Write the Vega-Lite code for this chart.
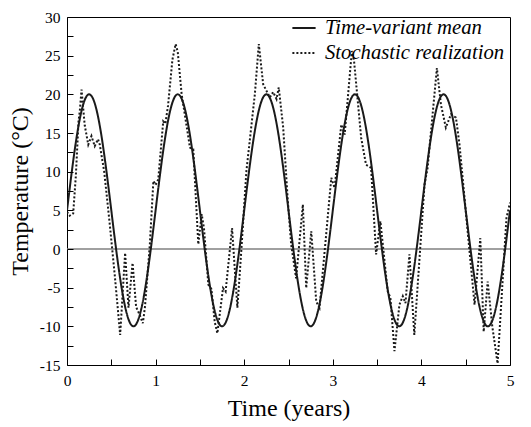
{
  "$schema": "https://vega.github.io/schema/vega-lite/v6.json",
  "width": 443,
  "height": 348,
  "autosize": {"type": "none"},
  "padding": {"left": 67, "top": 17, "right": 21, "bottom": 62},
  "background": "white",
  "config": {
    "view": {"stroke": "#000", "strokeWidth": 1},
    "font": "Liberation Serif",
    "axis": {
      "grid": false,
      "domain": false,
      "labelColor": "#000",
      "titleColor": "#000",
      "labelFont": "Liberation Serif",
      "titleFont": "Liberation Serif",
      "labelFontSize": 15.5,
      "titleFontSize": 24,
      "titleFontWeight": "normal",
      "labelFlush": false,
      "labelOverlap": false
    }
  },
  "datasets": {
    "mean": [
      {"t":0,"v":5,"s":"Time-variant mean"},{"t":0.05,"v":9.635,"s":"Time-variant mean"},{"t":0.1,"v":13.817,"s":"Time-variant mean"},{"t":0.15,"v":17.135,"s":"Time-variant mean"},{"t":0.2,"v":19.266,"s":"Time-variant mean"},{"t":0.25,"v":20,"s":"Time-variant mean"},{"t":0.3,"v":19.266,"s":"Time-variant mean"},{"t":0.35,"v":17.135,"s":"Time-variant mean"},{"t":0.4,"v":13.817,"s":"Time-variant mean"},{"t":0.45,"v":9.635,"s":"Time-variant mean"},
      {"t":0.5,"v":5,"s":"Time-variant mean"},{"t":0.55,"v":0.365,"s":"Time-variant mean"},{"t":0.6,"v":-3.817,"s":"Time-variant mean"},{"t":0.65,"v":-7.135,"s":"Time-variant mean"},{"t":0.7,"v":-9.266,"s":"Time-variant mean"},{"t":0.75,"v":-10,"s":"Time-variant mean"},{"t":0.8,"v":-9.266,"s":"Time-variant mean"},{"t":0.85,"v":-7.135,"s":"Time-variant mean"},{"t":0.9,"v":-3.817,"s":"Time-variant mean"},{"t":0.95,"v":0.365,"s":"Time-variant mean"},
      {"t":1,"v":5,"s":"Time-variant mean"},{"t":1.05,"v":9.635,"s":"Time-variant mean"},{"t":1.1,"v":13.817,"s":"Time-variant mean"},{"t":1.15,"v":17.135,"s":"Time-variant mean"},{"t":1.2,"v":19.266,"s":"Time-variant mean"},{"t":1.25,"v":20,"s":"Time-variant mean"},{"t":1.3,"v":19.266,"s":"Time-variant mean"},{"t":1.35,"v":17.135,"s":"Time-variant mean"},{"t":1.4,"v":13.817,"s":"Time-variant mean"},{"t":1.45,"v":9.635,"s":"Time-variant mean"},
      {"t":1.5,"v":5,"s":"Time-variant mean"},{"t":1.55,"v":0.365,"s":"Time-variant mean"},{"t":1.6,"v":-3.817,"s":"Time-variant mean"},{"t":1.65,"v":-7.135,"s":"Time-variant mean"},{"t":1.7,"v":-9.266,"s":"Time-variant mean"},{"t":1.75,"v":-10,"s":"Time-variant mean"},{"t":1.8,"v":-9.266,"s":"Time-variant mean"},{"t":1.85,"v":-7.135,"s":"Time-variant mean"},{"t":1.9,"v":-3.817,"s":"Time-variant mean"},{"t":1.95,"v":0.365,"s":"Time-variant mean"},
      {"t":2,"v":5,"s":"Time-variant mean"},{"t":2.05,"v":9.635,"s":"Time-variant mean"},{"t":2.1,"v":13.817,"s":"Time-variant mean"},{"t":2.15,"v":17.135,"s":"Time-variant mean"},{"t":2.2,"v":19.266,"s":"Time-variant mean"},{"t":2.25,"v":20,"s":"Time-variant mean"},{"t":2.3,"v":19.266,"s":"Time-variant mean"},{"t":2.35,"v":17.135,"s":"Time-variant mean"},{"t":2.4,"v":13.817,"s":"Time-variant mean"},{"t":2.45,"v":9.635,"s":"Time-variant mean"},
      {"t":2.5,"v":5,"s":"Time-variant mean"},{"t":2.55,"v":0.365,"s":"Time-variant mean"},{"t":2.6,"v":-3.817,"s":"Time-variant mean"},{"t":2.65,"v":-7.135,"s":"Time-variant mean"},{"t":2.7,"v":-9.266,"s":"Time-variant mean"},{"t":2.75,"v":-10,"s":"Time-variant mean"},{"t":2.8,"v":-9.266,"s":"Time-variant mean"},{"t":2.85,"v":-7.135,"s":"Time-variant mean"},{"t":2.9,"v":-3.817,"s":"Time-variant mean"},{"t":2.95,"v":0.365,"s":"Time-variant mean"},
      {"t":3,"v":5,"s":"Time-variant mean"},{"t":3.05,"v":9.635,"s":"Time-variant mean"},{"t":3.1,"v":13.817,"s":"Time-variant mean"},{"t":3.15,"v":17.135,"s":"Time-variant mean"},{"t":3.2,"v":19.266,"s":"Time-variant mean"},{"t":3.25,"v":20,"s":"Time-variant mean"},{"t":3.3,"v":19.266,"s":"Time-variant mean"},{"t":3.35,"v":17.135,"s":"Time-variant mean"},{"t":3.4,"v":13.817,"s":"Time-variant mean"},{"t":3.45,"v":9.635,"s":"Time-variant mean"},
      {"t":3.5,"v":5,"s":"Time-variant mean"},{"t":3.55,"v":0.365,"s":"Time-variant mean"},{"t":3.6,"v":-3.817,"s":"Time-variant mean"},{"t":3.65,"v":-7.135,"s":"Time-variant mean"},{"t":3.7,"v":-9.266,"s":"Time-variant mean"},{"t":3.75,"v":-10,"s":"Time-variant mean"},{"t":3.8,"v":-9.266,"s":"Time-variant mean"},{"t":3.85,"v":-7.135,"s":"Time-variant mean"},{"t":3.9,"v":-3.817,"s":"Time-variant mean"},{"t":3.95,"v":0.365,"s":"Time-variant mean"},
      {"t":4,"v":5,"s":"Time-variant mean"},{"t":4.05,"v":9.635,"s":"Time-variant mean"},{"t":4.1,"v":13.817,"s":"Time-variant mean"},{"t":4.15,"v":17.135,"s":"Time-variant mean"},{"t":4.2,"v":19.266,"s":"Time-variant mean"},{"t":4.25,"v":20,"s":"Time-variant mean"},{"t":4.3,"v":19.266,"s":"Time-variant mean"},{"t":4.35,"v":17.135,"s":"Time-variant mean"},{"t":4.4,"v":13.817,"s":"Time-variant mean"},{"t":4.45,"v":9.635,"s":"Time-variant mean"},
      {"t":4.5,"v":5,"s":"Time-variant mean"},{"t":4.55,"v":0.365,"s":"Time-variant mean"},{"t":4.6,"v":-3.817,"s":"Time-variant mean"},{"t":4.65,"v":-7.135,"s":"Time-variant mean"},{"t":4.7,"v":-9.266,"s":"Time-variant mean"},{"t":4.75,"v":-10,"s":"Time-variant mean"},{"t":4.8,"v":-9.266,"s":"Time-variant mean"},{"t":4.85,"v":-7.135,"s":"Time-variant mean"},{"t":4.9,"v":-3.817,"s":"Time-variant mean"},{"t":4.95,"v":0.365,"s":"Time-variant mean"},
      {"t":5,"v":5,"s":"Time-variant mean"}
    ],
    "stoch": [
      {"t":0,"v":4.8,"s":"Stochastic realization"},{"t":0.03,"v":4.3,"s":"Stochastic realization"},{"t":0.07,"v":4.6,"s":"Stochastic realization"},{"t":0.1,"v":9.5,"s":"Stochastic realization"},{"t":0.13,"v":16.5,"s":"Stochastic realization"},{"t":0.145,"v":17.9,"s":"Stochastic realization"},{"t":0.164,"v":20.6,"s":"Stochastic realization"},{"t":0.2,"v":16,"s":"Stochastic realization"},{"t":0.24,"v":13.5,"s":"Stochastic realization"},{"t":0.276,"v":14.6,"s":"Stochastic realization"},
      {"t":0.313,"v":13.3,"s":"Stochastic realization"},{"t":0.35,"v":14.2,"s":"Stochastic realization"},{"t":0.37,"v":13.5,"s":"Stochastic realization"},{"t":0.42,"v":10,"s":"Stochastic realization"},{"t":0.48,"v":3.5,"s":"Stochastic realization"},{"t":0.54,"v":-3.5,"s":"Stochastic realization"},{"t":0.6,"v":-11.1,"s":"Stochastic realization"},{"t":0.656,"v":-0.5,"s":"Stochastic realization"},{"t":0.694,"v":-7.6,"s":"Stochastic realization"},{"t":0.74,"v":-1.8,"s":"Stochastic realization"},
      {"t":0.78,"v":-7.5,"s":"Stochastic realization"},{"t":0.82,"v":-8.5,"s":"Stochastic realization"},{"t":0.856,"v":-9.6,"s":"Stochastic realization"},{"t":0.88,"v":-7.5,"s":"Stochastic realization"},{"t":0.935,"v":0.6,"s":"Stochastic realization"},{"t":0.975,"v":8.8,"s":"Stochastic realization"},{"t":1,"v":8.3,"s":"Stochastic realization"},{"t":1.03,"v":9,"s":"Stochastic realization"},{"t":1.086,"v":16.5,"s":"Stochastic realization"},{"t":1.11,"v":16.2,"s":"Stochastic realization"},
      {"t":1.14,"v":18.5,"s":"Stochastic realization"},{"t":1.19,"v":24.5,"s":"Stochastic realization"},{"t":1.226,"v":26.5,"s":"Stochastic realization"},{"t":1.25,"v":25.5,"s":"Stochastic realization"},{"t":1.294,"v":20,"s":"Stochastic realization"},{"t":1.388,"v":13.1,"s":"Stochastic realization"},{"t":1.425,"v":12.9,"s":"Stochastic realization"},{"t":1.482,"v":0.6,"s":"Stochastic realization"},{"t":1.52,"v":4.5,"s":"Stochastic realization"},{"t":1.546,"v":2.7,"s":"Stochastic realization"},
      {"t":1.595,"v":-4.6,"s":"Stochastic realization"},{"t":1.63,"v":-5.2,"s":"Stochastic realization"},{"t":1.667,"v":-9.4,"s":"Stochastic realization"},{"t":1.697,"v":-10.9,"s":"Stochastic realization"},{"t":1.761,"v":-5.05,"s":"Stochastic realization"},{"t":1.79,"v":-5.5,"s":"Stochastic realization"},{"t":1.863,"v":2.7,"s":"Stochastic realization"},{"t":1.923,"v":-7.6,"s":"Stochastic realization"},{"t":1.968,"v":-0.1,"s":"Stochastic realization"},{"t":2.025,"v":10.1,"s":"Stochastic realization"},
      {"t":2.12,"v":20,"s":"Stochastic realization"},{"t":2.165,"v":26.5,"s":"Stochastic realization"},{"t":2.214,"v":21.3,"s":"Stochastic realization"},{"t":2.29,"v":19.6,"s":"Stochastic realization"},{"t":2.327,"v":20.3,"s":"Stochastic realization"},{"t":2.365,"v":19.4,"s":"Stochastic realization"},{"t":2.39,"v":20.9,"s":"Stochastic realization"},{"t":2.44,"v":15.7,"s":"Stochastic realization"},{"t":2.49,"v":6.6,"s":"Stochastic realization"},{"t":2.53,"v":0.6,"s":"Stochastic realization"},
      {"t":2.586,"v":-3.8,"s":"Stochastic realization"},{"t":2.662,"v":5.75,"s":"Stochastic realization"},{"t":2.7,"v":-5.05,"s":"Stochastic realization"},{"t":2.757,"v":2.3,"s":"Stochastic realization"},{"t":2.813,"v":-6.8,"s":"Stochastic realization"},{"t":2.85,"v":-7.6,"s":"Stochastic realization"},{"t":2.983,"v":9.2,"s":"Stochastic realization"},{"t":3.02,"v":7.9,"s":"Stochastic realization"},{"t":3.096,"v":16.1,"s":"Stochastic realization"},{"t":3.134,"v":14.8,"s":"Stochastic realization"},
      {"t":3.215,"v":25.6,"s":"Stochastic realization"},{"t":3.24,"v":24.3,"s":"Stochastic realization"},{"t":3.32,"v":14.4,"s":"Stochastic realization"},{"t":3.375,"v":10.9,"s":"Stochastic realization"},{"t":3.432,"v":10.5,"s":"Stochastic realization"},{"t":3.489,"v":-0.7,"s":"Stochastic realization"},{"t":3.537,"v":3.6,"s":"Stochastic realization"},{"t":3.62,"v":-5.5,"s":"Stochastic realization"},{"t":3.65,"v":-6.3,"s":"Stochastic realization"},{"t":3.696,"v":-13.2,"s":"Stochastic realization"},
      {"t":3.752,"v":-7.2,"s":"Stochastic realization"},{"t":3.79,"v":-6.1,"s":"Stochastic realization"},{"t":3.82,"v":-7,"s":"Stochastic realization"},{"t":3.865,"v":-0.7,"s":"Stochastic realization"},{"t":3.92,"v":-11.1,"s":"Stochastic realization"},{"t":4.035,"v":8.3,"s":"Stochastic realization"},{"t":4.07,"v":10.5,"s":"Stochastic realization"},{"t":4.175,"v":23.4,"s":"Stochastic realization"},{"t":4.22,"v":18.7,"s":"Stochastic realization"},{"t":4.276,"v":15.7,"s":"Stochastic realization"},
      {"t":4.333,"v":17.4,"s":"Stochastic realization"},{"t":4.39,"v":17,"s":"Stochastic realization"},{"t":4.43,"v":13.5,"s":"Stochastic realization"},{"t":4.6,"v":-7.2,"s":"Stochastic realization"},{"t":4.665,"v":1.4,"s":"Stochastic realization"},{"t":4.703,"v":-10.7,"s":"Stochastic realization"},{"t":4.748,"v":-4.2,"s":"Stochastic realization"},{"t":4.8,"v":-10,"s":"Stochastic realization"},{"t":4.86,"v":-14.8,"s":"Stochastic realization"},{"t":4.96,"v":4,"s":"Stochastic realization"},
      {"t":5,"v":6,"s":"Stochastic realization"}
    ],
    "zero": [{"t": 0, "v": 0}, {"t": 5, "v": 0}]
  },
  "encoding": {
    "x": {"field": "t", "type": "quantitative", "scale": {"domain": [0, 5], "nice": false},
          "axis": {"values": [0,0.5,1,1.5,2,2.5,3,3.5,4,4.5,5], "labelExpr": "datum.value % 1 === 0 ? '' + datum.value : ''", "labelOverlap": false, "title": "Time (years)", "offset": -6, "ticks": true, "tickSize": 6, "tickWidth": 1, "tickColor": "#000", "labelPadding": 8, "titlePadding": 8, "zindex": 2}},
    "y": {"field": "v", "type": "quantitative", "scale": {"domain": [-15, 30], "nice": false, "zero": false},
          "axis": {"values": [-15,-12.5,-10,-7.5,-5,-2.5,0,2.5,5,7.5,10,12.5,15,17.5,20,22.5,25,27.5,30], "labelExpr": "datum.value % 5 === 0 ? '' + datum.value : ''", "labelOverlap": false, "title": "Temperature (°C)", "offset": -6, "ticks": true, "tickSize": 6, "tickWidth": 1, "tickColor": "#000", "labelPadding": 7, "titlePadding": 7, "zindex": 2}}
  },
  "layer": [
    {
      "data": {"name": "zero"},
      "mark": {"type": "line", "color": "#808080", "strokeWidth": 1.5}
    },
    {
      "data": {"name": "mean"},
      "mark": {"type": "line", "interpolate": "natural", "color": "#1a1a1a", "strokeWidth": 2, "clip": true},
      "encoding": {
        "strokeDash": {"field": "s", "type": "nominal",
          "scale": {"domain": ["Time-variant mean", "Stochastic realization"], "range": [[1, 0], [2, 2]]},
          "legend": {"title": null, "orient": "none", "legendX": 224, "legendY": -2, "symbolType": "stroke", "symbolSize": 540, "symbolStrokeWidth": 2, "symbolStrokeColor": "#1a1a1a", "labelFont": "Liberation Serif", "labelFontSize": 20.7, "labelFontStyle": "italic", "labelColor": "#000", "labelOffset": 8, "labelLimit": 0, "rowPadding": 2}}
      }
    },
    {
      "data": {"name": "stoch"},
      "mark": {"type": "line", "color": "#1a1a1a", "strokeWidth": 2, "clip": true},
      "encoding": {
        "strokeDash": {"field": "s", "type": "nominal"}
      }
    }
  ]
}
